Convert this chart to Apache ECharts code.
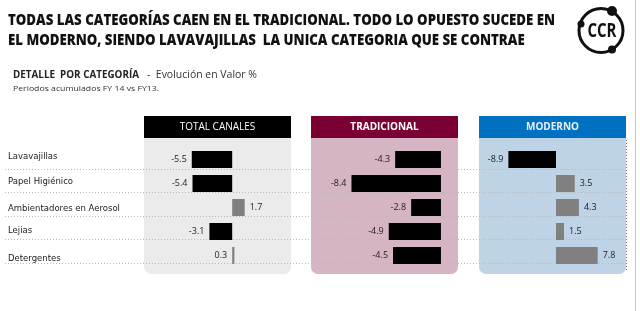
<!DOCTYPE html>
<html>
<head>
<meta charset="utf-8">
<script src="https://cdn.jsdelivr.net/npm/echarts@6/dist/echarts.min.js"></script>
<style>
  html, body { margin: 0; padding: 0; background: #fff; }
  #chart { width: 640px; height: 311px; }
</style>
</head>
<body>
<div id="chart"></div>
<script>
  var categorias = ['Lavavajillas', 'Papel Higiénico', 'Ambientadores en Aerosol', 'Lejias', 'Detergentes']
  var totalCanales = [-5.5, -5.4, 1.7, -3.1, 0.3]
  var tradicional = [-4.3, -8.4, -2.8, -4.9, -4.5]
  var moderno = [-8.9, 3.5, 4.3, 1.5, 7.8]
  var paneles = ['TOTAL CANALES', 'TRADICIONAL', 'MODERNO']

  var titulo1 = 'TODAS LAS CATEGORÍAS CAEN EN EL TRADICIONAL. TODO LO OPUESTO SUCEDE EN'
  var titulo2 = 'EL MODERNO, SIENDO LAVAVAJILLAS  LA UNICA CATEGORIA QUE SE CONTRAE'

  var fontTexto = "'DejaVu Sans', sans-serif"
  var fontValor = "'Open Sans', sans-serif"

  var chart = echarts.init(document.getElementById('chart'))

  // el original usa una fuente estrecha: se mide el texto y se comprime en x
  var ctx = document.createElement('canvas').getContext('2d')
  function squeeze(text, font, target) {
    ctx.font = font
    return target / ctx.measureText(text).width
  }

  // barras negativas en negro, positivas en gris
  function barData(vals, leftLabelIdx) {
    return vals.map(function (v, i) {
      var left = v < 0 || i === leftLabelIdx
      return {
        value: v,
        itemStyle: { color: v < 0 ? '#000' : '#808080' },
        label: { position: left ? 'left' : 'right' }
      }
    })
  }

  function barSeries(idx, vals, leftLabelIdx) {
    return {
      type: 'bar',
      xAxisIndex: idx,
      yAxisIndex: idx,
      barWidth: 17,
      barMinHeight: 2,
      data: barData(vals, leftLabelIdx),
      label: {
        show: true,
        distance: 5,
        fontSize: 9,
        fontFamily: fontValor,
        color: '#222',
        formatter: function (p) { return p.value.toFixed(1) }
      },
      silent: true,
      animation: false
    }
  }

  function panel(x, headColor, bodyColor, text, bold, textColor) {
    return [{
      type: 'rect', z: -10,
      shape: { x: x, y: 138, width: 147, height: 136, r: [0, 0, 7, 7] },
      style: { fill: bodyColor }
    }, {
      type: 'rect', z: -10,
      shape: { x: x, y: 116, width: 147, height: 22 },
      style: { fill: headColor }
    }, {
      type: 'text', z: 5,
      x: x + 73.5, y: 127,
      style: {
        text: text, fill: textColor, fontSize: 10, fontWeight: bold ? 'bold' : 'normal',
        fontFamily: fontValor, align: 'center', verticalAlign: 'middle'
      }
    }]
  }

  function titleText(text, y) {
    return {
      type: 'text', x: 8, y: y,
      scaleX: squeeze(titulo1, "800 16px 'Open Sans'", 547),
      style: {
        text: text, fill: '#111', fontSize: 16, fontWeight: 800,
        fontFamily: fontValor, verticalAlign: 'middle'
      }
    }
  }

  // las etiquetas de categoría del original no quedan centradas en su fila
  var labelRich = {}
  ;[0, 3, 10, 7, 15].forEach(function (p, i) {
    labelRich['r' + i] = { padding: [p, 0, 0, 0] }
  })

  var hideAxis = { show: false }
  var graphics = []
    .concat(panel(144, '#000000', '#ebebeb', paneles[0], false, '#fff'))
    .concat(panel(311, '#7a0033', '#d5b4c3', paneles[1], true, '#fff'))
    .concat(panel(479, '#0070c0', '#bfd3e6', paneles[2], true, '#e8f0fa'))
    .concat([
      titleText(titulo1, 20),
      titleText(titulo2, 40),
      {
        type: 'text', x: 13, y: 75.5,
        scaleX: squeeze('DETALLE  POR CATEGORÍA', "bold 10.5px 'Open Sans'", 126),
        style: { text: 'DETALLE  POR CATEGORÍA', fill: '#222', fontSize: 10.5, fontWeight: 'bold', fontFamily: fontValor, verticalAlign: 'middle' }
      },
      {
        type: 'text', x: 147, y: 75.5,
        scaleX: squeeze('-  Evolución en Valor %', "10.5px 'Open Sans'", 110),
        style: { text: '-  Evolución en Valor %', fill: '#333', fontSize: 10.5, fontFamily: fontValor, verticalAlign: 'middle' }
      },
      {
        type: 'text', x: 13, y: 88.5,
        scaleX: squeeze('Periodos acumulados FY 14 vs FY13.', "8px 'Open Sans'", 146),
        style: { text: 'Periodos acumulados FY 14 vs FY13.', fill: '#333', fontSize: 8, fontFamily: fontValor, verticalAlign: 'middle' }
      },
      // logo CCR
      { type: 'circle', shape: { cx: 601, cy: 30.5, r: 22 }, style: { fill: 'none', stroke: '#111', lineWidth: 3 } },
      { type: 'circle', shape: { cx: 612, cy: 11, r: 5 }, style: { fill: '#111' } },
      { type: 'circle', shape: { cx: 581, cy: 24, r: 3.5 }, style: { fill: '#111' } },
      { type: 'circle', shape: { cx: 612, cy: 49.5, r: 4 }, style: { fill: '#111' } },
      {
        type: 'text', x: 602, y: 31,
        scaleX: squeeze('CCR', "bold 20px 'Open Sans'", 29),
        style: { text: 'CCR', fill: '#111', fontSize: 20, fontWeight: 'bold', fontFamily: fontValor, align: 'center', verticalAlign: 'middle' }
      },
      // bordes
      { type: 'line', shape: { x1: 626.5, y1: 140, x2: 626.5, y2: 270 }, style: { stroke: '#777', lineWidth: 1, lineDash: [1, 2] } },
      { type: 'line', shape: { x1: 635.5, y1: 0, x2: 635.5, y2: 311 }, style: { stroke: '#c8c8c8', lineWidth: 1 } }
    ])

  chart.setOption({
    backgroundColor: '#fff',
    animation: false,
    graphic: graphics,
    grid: [
      { left: 144, width: 147, top: 147.5, height: 120 },
      { left: 311, width: 147, top: 147.5, height: 120 },
      { left: 479, width: 147, top: 147.5, height: 120 },
      { left: 5, right: 14, top: 145.5, height: 117.5 }
    ],
    xAxis: [
      { gridIndex: 0, type: 'value', min: -12, max: 8, axisLine: hideAxis, axisTick: hideAxis, axisLabel: hideAxis, splitLine: hideAxis },
      { gridIndex: 1, type: 'value', min: -12.2, max: 1.6, axisLine: hideAxis, axisTick: hideAxis, axisLabel: hideAxis, splitLine: hideAxis },
      { gridIndex: 2, type: 'value', min: -14.4, max: 13.1, axisLine: hideAxis, axisTick: hideAxis, axisLabel: hideAxis, splitLine: hideAxis },
      { gridIndex: 3, type: 'value', min: 0, max: 1, show: false }
    ],
    yAxis: [
      { gridIndex: 0, type: 'category', inverse: true, data: categorias, show: false },
      { gridIndex: 1, type: 'category', inverse: true, data: categorias, show: false },
      { gridIndex: 2, type: 'category', inverse: true, data: categorias, show: false },
      {
        gridIndex: 3, type: 'category', inverse: true, data: categorias,
        axisLine: hideAxis, axisTick: hideAxis,
        axisLabel: {
          align: 'left', margin: -3, fontSize: 8.5, fontFamily: fontTexto, color: '#222',
          formatter: function (v, i) { return '{r' + i + '|' + v + '}' },
          rich: labelRich
        },
        splitLine: {
          show: true,
          interval: function (i) { return i > 0 },
          lineStyle: { color: '#b8b8b8', type: [1, 2], width: 1 }
        }
      }
    ],
    series: [
      barSeries(0, totalCanales, 4),
      barSeries(1, tradicional, -1),
      barSeries(2, moderno, -1)
    ]
  })
</script>
</body>
</html>
